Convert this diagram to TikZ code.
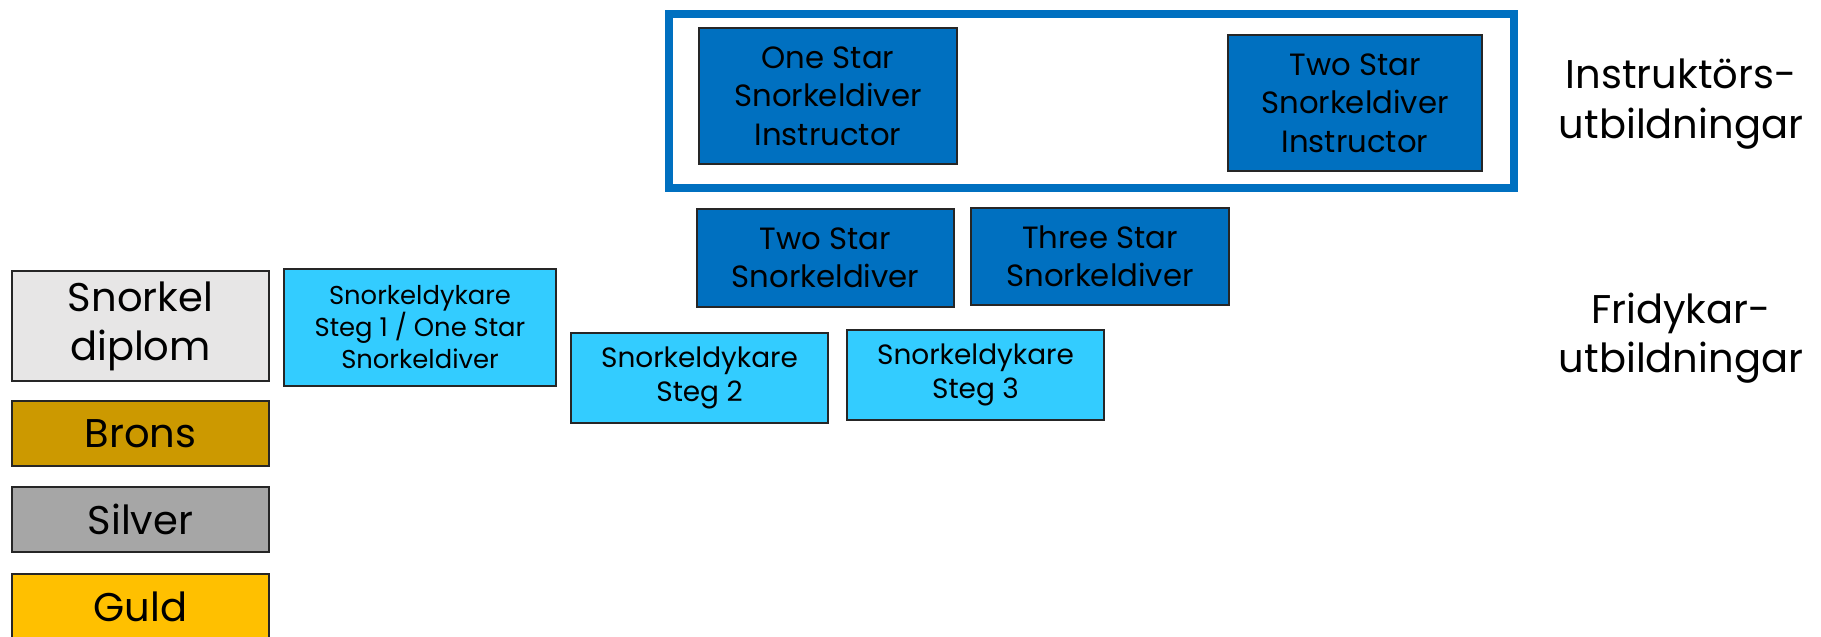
\documentclass[tikz,border=0pt]{standalone}
\usepackage{fontspec}
\setmainfont{Poppins}
\usepackage{tikz}
\definecolor{snorkel-col}{HTML}{E7E6E6}
\definecolor{brons-col}{HTML}{CC9900}
\definecolor{silver-col}{HTML}{A6A6A6}
\definecolor{guld-col}{HTML}{FFC000}
\definecolor{light-blue}{HTML}{33CCFF}
\definecolor{dark-blue}{HTML}{0070C0}

\begin{document}
\begin{tikzpicture}[x=0.02cm,y=-0.02cm,
		box/.style={draw=black!85,line width=0.6pt,align=center,inner sep=0pt},
		dim/.style 2 args={minimum width=#1*0.02cm,minimum height=#2*0.02cm},
		big/.style={font=\fontsize{22.8}{28}\selectfont},
		mid/.style={font=\fontsize{17.5}{21.9}\selectfont},
		small/.style={font=\fontsize{14.7}{18.2}\selectfont},
		steg/.style={font=\fontsize{15.9}{19.1}\selectfont}]
				\useasboundingbox (0,0) rectangle (1821,636);

				% diplom och märken
				\node[box,big,dim={257}{110},fill=snorkel-col] (snorkel) at (140.5,326) {Snorkel\\diplom};
				\foreach \name/\txt/\y in {brons/Brons/433.5, silver/Silver/519.5, guld/Guld/606.5}
					{\node[box,big,dim={257}{65},fill=\name-col] (\name) at (140.5,\y) {\txt};}

				% fridykarutbildningar
				\node[box,small,dim={272}{117},fill=light-blue] (steg1) at (420,327.5) {Snorkeldykare\\Steg 1 / One Star\\Snorkeldiver};
				\node[box,steg,dim={257}{90},fill=light-blue] (steg2) at (699.5,378) {Snorkeldykare\\Steg 2};
				\node[box,steg,dim={257}{90},fill=light-blue] (steg3) at (975.5,375) {Snorkeldykare\\Steg 3};
				\node[box,mid,dim={257}{98},fill=dark-blue] (twostar) at (825.5,258) {Two Star\\Snorkeldiver};
				\node[box,mid,dim={258}{97},fill=dark-blue] (threestar) at (1100,256.5) {Three Star\\Snorkeldiver};

				% instruktörsutbildningar
				\draw[dark-blue,line width=0.16cm] (669,14) rectangle (1514,188);
				\node[box,mid,dim={258}{136},fill=dark-blue] (oneinstr) at (828,96) {One Star\\Snorkeldiver\\Instructor};
				\node[box,mid,dim={254}{136},fill=dark-blue] (twoinstr) at (1355,103) {Two Star\\Snorkeldiver\\Instructor};

				\node[big,align=center] (instrlabel) at (1681,104) {Instruktörs-\\utbildningar};
				\node[big,align=center] (fridlabel) at (1681,338) {Fridykar-\\utbildningar};
\end{tikzpicture}
\end{document}
